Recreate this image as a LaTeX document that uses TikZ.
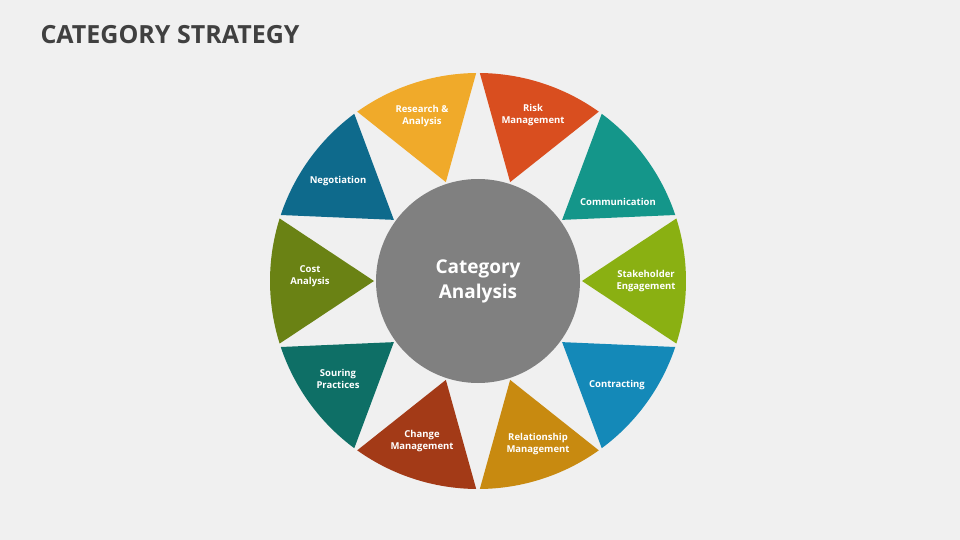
\documentclass[tikz,border=0pt]{standalone}
\usepackage{fontspec}
\setmainfont{Open Sans}
\usetikzlibrary{calc}
\begin{document}
\begin{tikzpicture}[x=1pt,y=-1pt,
 lbl/.style={text=white,font=\bfseries\fontsize{9.5}{11.5}\selectfont,align=center}]
\useasboundingbox (0,0) rectangle (960,540);
\fill[white!94!black] (0,0) rectangle (960,540);
\node[anchor=west,text=black!75,font=\bfseries\fontsize{25}{30}\selectfont] (title) at (37,35) {CATEGORY STRATEGY};
\coordinate (c) at (478,281);
\foreach \a/\col in {0/8AB012,36/14968A,72/D94E1F,108/F0AA2A,144/0E6A8C,180/6A8214,216/0E6F66,252/A33A17,288/C88A10,324/1489B8}{
  \definecolor{segc}{HTML}{\col}
  \fill[segc] ($(c)+(-\a-17.5:208)$) arc[start angle=-\a-17.5,end angle=-\a+17.5,radius=208] -- ($(c)+(-\a:104)$) -- cycle;
}
\node[circle,fill=black!50,minimum size=204pt,inner sep=0pt,text=white,font=\bfseries\fontsize{19}{25}\selectfont,align=center] (ctr) at (c) {Category\\Analysis};
\node[lbl] (n1) at (422,116) {Research \&\\Analysis};
\node[lbl] (n2) at (533,115) {Risk\\Management};
\node[lbl] (n3) at (338,181) {Negotiation};
\node[lbl] (n4) at (618,202) {Communication};
\node[lbl] (n5) at (310,276) {Cost\\Analysis};
\node[lbl] (n6) at (646,281) {Stakeholder\\Engagement};
\node[lbl] (n7) at (338,379) {Souring\\Practices};
\node[lbl] (n8) at (617,385) {Contracting};
\node[lbl] (n9) at (422,441) {Change\\Management};
\node[lbl] (n10) at (538,444) {Relationship\\Management};
\end{tikzpicture}
\end{document}
